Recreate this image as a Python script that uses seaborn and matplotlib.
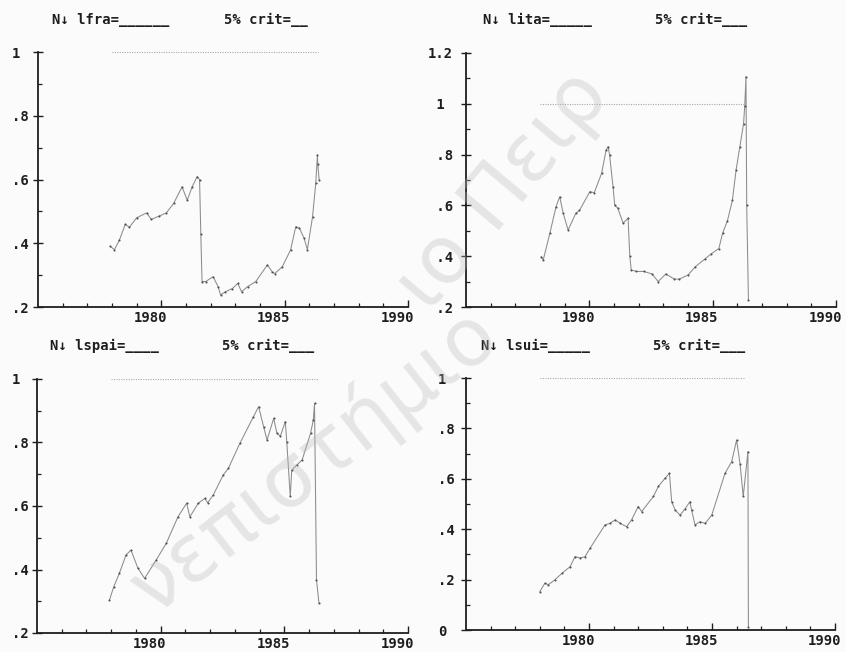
import matplotlib
matplotlib.use("Agg")
import matplotlib.pyplot as plt
import matplotlib.transforms as mtrans
import seaborn as sns
import pandas as pd

sns.set_theme(style="white")
plt.rcParams["font.family"] = ["DejaVu Sans Mono", "DejaVu Sans"]

# ---------------- data ----------------
lfra_t = [1977.93, 1978.10, 1978.30, 1978.54, 1978.70, 1979.00, 1979.40, 1979.60, 1979.90,
          1980.20, 1980.50, 1980.84, 1981.05, 1981.25, 1981.45, 1981.55, 1981.60, 1981.65,
          1981.80, 1982.10, 1982.30, 1982.40, 1982.60, 1982.88, 1983.10, 1983.25, 1983.50,
          1983.83, 1984.30, 1984.50, 1984.60, 1984.90, 1985.24, 1985.45, 1985.60, 1985.79,
          1985.92, 1986.13, 1986.26, 1986.33, 1986.34, 1986.40]
lfra_v = [0.39, 0.38, 0.41, 0.46, 0.45, 0.48, 0.495, 0.475, 0.485,
          0.495, 0.525, 0.577, 0.535, 0.577, 0.609, 0.60, 0.43, 0.28,
          0.28, 0.295, 0.264, 0.238, 0.248, 0.258, 0.274, 0.248, 0.264,
          0.28, 0.332, 0.31, 0.305, 0.326, 0.379, 0.452, 0.447, 0.415,
          0.38, 0.483, 0.588, 0.677, 0.65, 0.598]

lita_t = [1978.05, 1978.13, 1978.40, 1978.65, 1978.80, 1978.94, 1979.14, 1979.45, 1979.60,
          1980.02, 1980.20, 1980.50, 1980.68, 1980.76, 1980.82, 1980.96, 1981.03, 1981.15,
          1981.37, 1981.57, 1981.64, 1981.70, 1981.90, 1982.20, 1982.55, 1982.79, 1983.10,
          1983.45, 1983.65, 1984.00, 1984.30, 1984.70, 1984.95, 1985.25, 1985.40, 1985.60,
          1985.80, 1985.95, 1986.10, 1986.25, 1986.30, 1986.35, 1986.38, 1986.45]
lita_v = [0.398, 0.385, 0.49, 0.595, 0.634, 0.569, 0.503, 0.569, 0.58,
          0.654, 0.65, 0.727, 0.818, 0.831, 0.80, 0.674, 0.60, 0.59,
          0.53, 0.55, 0.40, 0.346, 0.34, 0.34, 0.33, 0.30, 0.33,
          0.31, 0.31, 0.326, 0.359, 0.39, 0.41, 0.43, 0.49, 0.54,
          0.62, 0.74, 0.83, 0.92, 0.99, 1.107, 0.60, 0.228]

lspai_t = [1977.93, 1978.10, 1978.33, 1978.60, 1978.80, 1979.08, 1979.35, 1979.82, 1980.23,
           1980.70, 1981.05, 1981.18, 1981.52, 1981.79, 1981.90, 1982.13, 1982.53, 1982.74,
           1983.20, 1983.75, 1983.96, 1984.16, 1984.30, 1984.57, 1984.70, 1984.84, 1985.04,
           1985.10, 1985.24, 1985.30, 1985.50, 1985.72, 1986.06, 1986.17, 1986.22, 1986.30,
           1986.40]
lspai_v = [0.304, 0.345, 0.388, 0.446, 0.461, 0.404, 0.372, 0.43, 0.483,
           0.566, 0.609, 0.566, 0.609, 0.624, 0.61, 0.635, 0.698, 0.719,
           0.797, 0.881, 0.913, 0.85, 0.808, 0.876, 0.829, 0.82, 0.866,
           0.80, 0.63, 0.713, 0.729, 0.745, 0.829, 0.87, 0.923, 0.367,
           0.294]

lsui_t = [1978.00, 1978.20, 1978.35, 1978.60, 1978.90, 1979.23, 1979.43, 1979.63, 1979.84,
          1980.04, 1980.65, 1980.85, 1981.06, 1981.27, 1981.53, 1981.73, 1982.00, 1982.14,
          1982.62, 1982.82, 1983.09, 1983.27, 1983.36, 1983.50, 1983.70, 1983.90, 1984.10,
          1984.17, 1984.31, 1984.51, 1984.72, 1984.99, 1985.53, 1985.80, 1986.00, 1986.14,
          1986.27, 1986.46, 1986.48]
lsui_v = [0.152, 0.185, 0.18, 0.198, 0.225, 0.251, 0.291, 0.286, 0.291,
          0.324, 0.417, 0.423, 0.437, 0.423, 0.41, 0.437, 0.49, 0.47,
          0.53, 0.57, 0.602, 0.622, 0.509, 0.476, 0.456, 0.48, 0.509,
          0.476, 0.417, 0.43, 0.423, 0.456, 0.622, 0.668, 0.754, 0.66,
          0.53, 0.708, 0.01]

crit_t = [1978.0, 1986.35]
crit_v = [1.0, 1.0]

names = ["lfra", "lita", "lspai", "lsui"]
underscores = ["______", "_____", "____", "_____"]
crit_underscores = ["__", "___", "___", "___"]
series = [(lfra_t, lfra_v), (lita_t, lita_v), (lspai_t, lspai_v), (lsui_t, lsui_v)]

yticks = [[0.2, 0.4, 0.6, 0.8, 1.0],
          [0.2, 0.4, 0.6, 0.8, 1.0, 1.2],
          [0.2, 0.4, 0.6, 0.8, 1.0],
          [0.0, 0.2, 0.4, 0.6, 0.8, 1.0]]
ylabels = [[".2", ".4", ".6", ".8", "1"],
           [" .2", " .4", " .6", " .8", " 1", "1.2"],
           [".2", ".4", ".6", ".8", "1"],
           ["0", ".2", ".4", ".6", ".8", "1"]]
xticks = [1980, 1985, 1990]

watermark_low = "νεπιστήμιο"
watermark_up = "ιο Πειρ"

# ---------------- layout (pixel based) ----------------
W, H = 846, 652
fig = plt.figure(figsize=(W / 100, H / 100), dpi=100, facecolor="#fbfbfb")

# left, right(1990), top, bottom in pixels
boxes = [(38, 408, 52, 307), (466, 836, 53, 307), (37, 408, 379, 633), (466, 835, 378, 630)]
label_left = [12, 428, 12, 438]          # x pixel of left edge of y tick labels
title_x = [(52, 224), (483, 655), (50, 222), (481, 653)]
title_y = [20, 20, 346, 346]

ink = "#1e1e1e"
FS = 10
for i, (name, (t, v)) in enumerate(zip(names, series)):
    l, r, tp, b = boxes[i]
    ax = fig.add_axes([l / W, 1 - b / H, (r - l) / W, (b - tp) / H])
    ax.set_facecolor("none")
    df = pd.DataFrame({"t": t, "v": v})
    sns.lineplot(data=df, x="t", y="v", ax=ax, sort=False, estimator=None,
                 color="#8c8c8c", lw=0.75, marker="o", markersize=1.5,
                 markeredgewidth=0, markerfacecolor="#505050")
    cdf = pd.DataFrame({"t": crit_t, "v": crit_v})
    sns.lineplot(data=cdf, x="t", y="v", ax=ax, sort=False, estimator=None,
                 color="#a8a8a8", lw=0.8, linestyle=(0, (1.0, 1.2)))
    yt = yticks[i]
    ax.set_xlim(1975, 1990)
    ax.set_ylim(yt[0], yt[-1])
    ax.set_xticks(xticks)
    ax.set_xticklabels([str(x) for x in xticks])
    ax.set_xticks(list(range(1976, 1990)), minor=True)
    ax.set_yticks(yt)
    ax.set_yticklabels(ylabels[i])
    ax.set_yticks([round(yt[0] + 0.1 + 0.2 * k, 2) for k in range(len(yt) - 1)], minor=True)
    ax.set_xlabel("")
    ax.set_ylabel("")
    for s in ("top", "right"):
        ax.spines[s].set_visible(False)
    for s in ("left", "bottom"):
        ax.spines[s].set_color(ink)
        ax.spines[s].set_linewidth(1.3)
    ypad = (l - label_left[i]) * 0.72 - 3.5
    ax.tick_params(axis="y", which="major", direction="inout", length=7, width=1.0,
                   color=ink, labelsize=FS, pad=ypad, labelcolor=ink, left=True)
    ax.tick_params(axis="y", which="minor", direction="in", length=3, width=0.9,
                   color=ink, left=True)
    ax.tick_params(axis="x", which="major", direction="in", length=5, width=1.0,
                   color=ink, labelsize=FS, pad=3, labelcolor=ink, bottom=True)
    ax.tick_params(axis="x", which="minor", direction="in", length=3, width=0.9,
                   color=ink, bottom=True)
    for lab in ax.get_yticklabels():
        lab.set_fontweight("bold")
        lab.set_horizontalalignment("left")
    shift = mtrans.ScaledTranslation(6 / 100, 0, fig.dpi_scale_trans)
    for lab in ax.get_xticklabels():
        lab.set_fontweight("bold")
        lab.set_horizontalalignment("right")
        lab.set_transform(lab.get_transform() + shift)
    # title pieces
    fig.text(title_x[i][0] / W, 1 - title_y[i] / H, f"N\u2193 {name}={underscores[i]}",
             ha="left", va="center", fontsize=FS, fontweight="bold", color=ink)
    fig.text(title_x[i][1] / W, 1 - title_y[i] / H, f"5% crit={crit_underscores[i]}",
             ha="left", va="center", fontsize=FS, fontweight="bold", color=ink)

# faint diagonal watermark of the scanned page (only its visible part)
wm_color = (0.72, 0.72, 0.72, 0.32)
fig.text(488 / W, 1 - 325 / H, watermark_low, rotation=38, rotation_mode="anchor",
         ha="right", va="center", fontsize=58, color=wm_color,
         family=["DejaVu Sans"], zorder=10)
fig.text(412 / W, 1 - 300 / H, watermark_up, rotation=50, rotation_mode="anchor",
         ha="left", va="center", fontsize=58, color=wm_color,
         family=["DejaVu Sans"], zorder=10)

fig.savefig("out.png", dpi=100, facecolor=fig.get_facecolor())
